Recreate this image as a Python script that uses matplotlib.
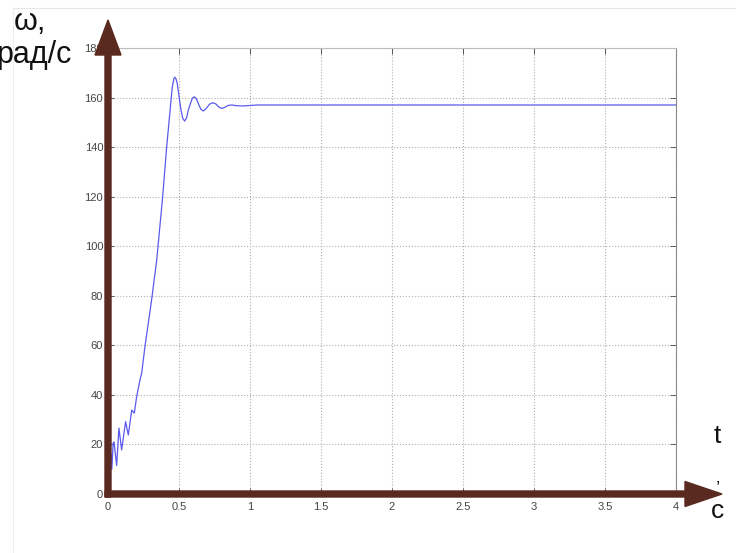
import matplotlib
matplotlib.use("Agg")
import matplotlib.pyplot as plt
from matplotlib.patches import FancyArrow
from matplotlib.lines import Line2D

plt.rcParams['font.family'] = ['Liberation Sans', 'DejaVu Sans']

# Speed response
t = [0.0, 0.022, 0.027, 0.036, 0.042, 0.061, 0.077, 0.096, 0.124, 0.143, 0.167,
     0.185, 0.202, 0.225, 0.237, 0.26, 0.307, 0.343, 0.385, 0.413, 0.444, 0.452,
     0.465, 0.472, 0.479, 0.488, 0.50, 0.514, 0.527, 0.54, 0.553, 0.566, 0.58,
     0.595, 0.608, 0.622, 0.64, 0.655, 0.671, 0.69, 0.715, 0.737, 0.76, 0.78,
     0.80, 0.82, 0.845, 0.87, 0.91, 0.95, 1.05, 4.0]
omega = [16, 16, 10, 20.5, 21, 11.5, 26.6, 17.8, 29.2, 23.8, 33.9,
         32.6, 39.3, 46, 48.7, 59.4, 78.3, 94.4, 120, 140, 159, 164,
         167.8, 168.2, 167.5, 165.7, 160.5, 155, 151.5, 150.5, 151.8, 155, 157.5,
         159.8, 160.3, 159.5, 157, 155.2, 154.6, 155.5, 157.3, 157.9, 157.4, 156.2,
         155.6, 156, 156.8, 157, 156.7, 156.6, 157, 157]

xticks = [0, 0.5, 1, 1.5, 2, 2.5, 3, 3.5, 4]
xticklabels = ['0', '0.5', '1', '1.5', '2', '2.5', '3', '3.5', '4']
yticks = [0, 20, 40, 60, 80, 100, 120, 140, 160, 180]

W, H = 736, 553
fig = plt.figure(figsize=(W / 100, H / 100), dpi=100)
ax = fig.add_axes([108 / W, 1 - 494 / H, 568 / W, 446 / H])

ax.plot(t, omega, color='#5a5aee', lw=0.9)
ax.set_xlim(0, 4)
ax.set_ylim(0, 180)
ax.set_xticks(xticks)
ax.set_xticklabels(xticklabels)
ax.set_yticks(yticks)
ax.grid(True, linestyle=':', color='#b0b0b0', lw=0.8)
ax.tick_params(direction='in', length=4, top=True, right=True,
               labelsize=8, colors='#444444', width=0.6)
ax.tick_params(axis='x', pad=6)
for s in ax.spines.values():
    s.set_color('#8a8a8a')
    s.set_linewidth(0.8)
ax.spines['top'].set_color('#bdbdbd')

# faint frame of the slide
fig.add_artist(Line2D([13 / W, 1], [1 - 8 / H, 1 - 8 / H], transform=fig.transFigure,
                      color='#e6e6e6', lw=0.8))
fig.add_artist(Line2D([13 / W, 13 / W], [0, 1 - 8 / H], transform=fig.transFigure,
                      color='#eeeeee', lw=0.8))

# brown axis arrows (pixel coordinates -> inches)
brown = '#5a2a20'
tr = fig.dpi_scale_trans
fig.add_artist(FancyArrow(108 / 100, (H - 497) / 100, 0, (497 - 20) / 100,
                          width=0.06, head_width=0.26, head_length=0.35,
                          length_includes_head=True, color=brown, transform=tr))
fig.add_artist(FancyArrow(105 / 100, (H - 494) / 100, (722 - 105) / 100, 0,
                          width=0.06, head_width=0.25, head_length=0.37,
                          length_includes_head=True, color=brown, transform=tr))

# axis captions
fig.text(14 / W, 1 - 30 / H, 'ω,', fontsize=22, va='baseline', ha='left', color='#111111')
fig.text(-4 / W, 1 - 63 / H, 'рад/с', fontsize=22, va='baseline', ha='left', color='#111111')
fig.text(717 / W, 1 - 436 / H, 't', fontsize=19, va='center', ha='center', color='#111111')
fig.text(718 / W, 1 - 489 / H, '’', fontsize=14, va='center', ha='center', color='#111111')
fig.text(717 / W, 1 - 511 / H, 'с', fontsize=19, va='center', ha='center', color='#111111')

fig.savefig('out.png', dpi=100)
